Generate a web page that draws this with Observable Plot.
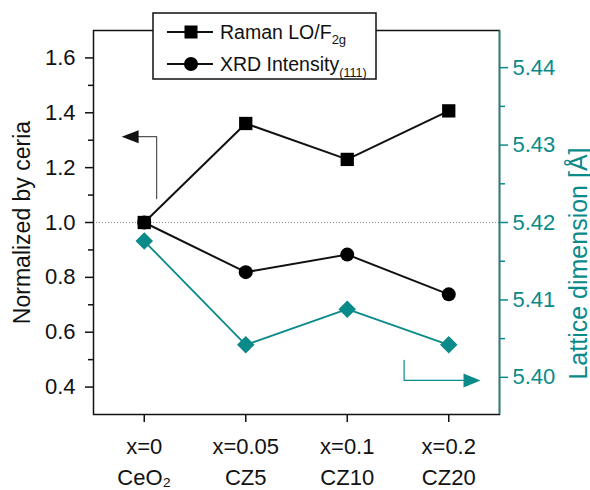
<!DOCTYPE html>
<html>
<head>
<meta charset="utf-8">
<script src="https://cdn.jsdelivr.net/npm/d3@7"></script>
<script src="https://cdn.jsdelivr.net/npm/@observablehq/plot@0.6"></script>
<style>
  body { margin: 0; background: #fff; }
  #chart svg { display: block; }
</style>
</head>
<body>
<div id="chart"></div>
<script>
// ---- data ----
const categories = ["x=0", "x=0.05", "x=0.1", "x=0.2"];
const sampleNames = ["CeO₂", "CZ5", "CZ10", "CZ20"];
const ramanLO_F2g = [1.0, 1.361, 1.230, 1.407];
const xrdIntensity111 = [1.0, 0.819, 0.883, 0.738];
const latticeDimension = [5.4176, 5.4042, 5.4088, 5.4042];
const leftTicks = [0.4, 0.6, 0.8, 1.0, 1.2, 1.4, 1.6];
const leftMinorTicks = [0.5, 0.7, 0.9, 1.1, 1.3, 1.5];
const rightTicks = [5.40, 5.41, 5.42, 5.43, 5.44];
const rightMinorTicks = [5.405, 5.415, 5.425, 5.435];
const seriesNames = ["Raman LO/F", "XRD Intensity"];
// annotation arrows (x in category index units, y in own-axis units)
const leftArrowPath = [[0.122, 1.087], [0.122, 1.313], [-0.13, 1.313]];
const leftArrowHead = [[-0.134, 1.313]];
const rightArrowPath = [[2.56, 5.4022], [2.56, 5.3996], [3.2, 5.3996]];
const rightArrowHead = [[3.224, 5.3996]];

const teal = "#0b8a8a";
const rightCenter = 5.42, leftCenter = 1.0, ratio = 0.7 / 0.0248;
const toLeft = v => leftCenter + (v - rightCenter) * ratio;
const toRight = d => rightCenter + (d - leftCenter) / ratio;

const idx = categories.map((_, i) => i);
const raman = idx.map(i => ({x: i, y: ramanLO_F2g[i]}));
const xrd = idx.map(i => ({x: i, y: xrdIntensity111[i]}));
const lattice = idx.map(i => ({x: i, y: toLeft(latticeDimension[i])}));

const arrowRight = {draw(ctx) { ctx.moveTo(9, 0); ctx.lineTo(-8, -7); ctx.lineTo(-8, 7); ctx.closePath(); }};
const arrowLeft = {draw(ctx) { ctx.moveTo(-9, 0); ctx.lineTo(8, -6.5); ctx.lineTo(8, 6.5); ctx.closePath(); }};

const font = "'Liberation Sans', Arial, Helvetica, sans-serif";

const chart = Plot.plot({
  width: 590,
  height: 490,
  marginLeft: 93,
  marginRight: 91,
  marginTop: 30,
  marginBottom: 76,
  x: {domain: [-0.5, 3.5]},
  y: {domain: [0.3, 1.7]},
  style: {fontFamily: font, fontSize: "22px", color: "#111", background: "white", overflow: "visible"},
  marks: [
    Plot.ruleY([1], {stroke: "#888", strokeWidth: 1, strokeDasharray: "1,2"}),
    // annotation arrows
    Plot.line(leftArrowPath, {x: d => d[0], y: d => d[1], stroke: "#555", strokeWidth: 1.2}),
    Plot.dot(leftArrowHead, {x: d => d[0], y: d => d[1], symbol: arrowLeft, fill: "#111", stroke: "none"}),
    Plot.line(rightArrowPath, {x: d => d[0], y: d => toLeft(d[1]), stroke: teal, strokeWidth: 1.2}),
    Plot.dot(rightArrowHead, {x: d => d[0], y: d => toLeft(d[1]), symbol: arrowRight, fill: teal, stroke: "none"}),
    // lattice (right axis)
    Plot.line(lattice, {x: "x", y: "y", stroke: teal, strokeWidth: 1.8}),
    Plot.dot(lattice, {x: "x", y: "y", symbol: "square", rotate: 45, r: 7, fill: teal, stroke: "none"}),
    // raman
    Plot.line(raman, {x: "x", y: "y", stroke: "#111", strokeWidth: 2}),
    Plot.dot(raman, {x: "x", y: "y", symbol: "square", r: 7.5, fill: "#000", stroke: "none"}),
    // xrd
    Plot.line(xrd, {x: "x", y: "y", stroke: "#111", strokeWidth: 2}),
    Plot.dot(xrd, {x: "x", y: "y", symbol: "circle", r: 7, fill: "#000", stroke: "none"}),
    // frame
    Plot.frame({stroke: "#111", strokeWidth: 1.5}),
    Plot.ruleX([3.5], {stroke: teal, strokeWidth: 1.5}),
    // left axis
    Plot.axisY(leftTicks, {anchor: "left", tickSize: 8, tickPadding: 10, tickFormat: d => d.toFixed(1), fontSize: 22, label: null, strokeWidth: 1.5}),
    Plot.axisY(leftMinorTicks, {anchor: "left", tickSize: 5, tickFormat: () => "", label: null, strokeWidth: 1.5}),
    // right axis
    Plot.axisY(rightTicks.map(toLeft), {anchor: "right", tickSize: 8, tickPadding: 5, tickFormat: d => toRight(d).toFixed(2), fontSize: 22, color: teal, label: null, strokeWidth: 1.5}),
    Plot.axisY(rightMinorTicks.map(toLeft), {anchor: "right", tickSize: 5, tickFormat: () => "", color: teal, label: null, strokeWidth: 1.5}),
    // bottom axis
    Plot.axisX(idx, {anchor: "bottom", tickSize: 8, tickPadding: 9, tickFormat: i => categories[i] + "\n" + sampleNames[i], lineHeight: 1.42, fontSize: 22, label: null, strokeWidth: 1.5}),
    // axis titles
    Plot.text(["Normalized by ceria"], {frameAnchor: "left", dx: -71, rotate: -90, textAnchor: "middle", lineAnchor: "middle", fontSize: 23, fill: "#111"}),
    Plot.text(["Lattice dimension [Å]"], {frameAnchor: "right", dx: 79, dy: 41, rotate: -90, textAnchor: "middle", lineAnchor: "middle", fontSize: 25, fill: teal})
  ]
});

// ---- legend (drawn on top of the plot svg) ----
const svg = d3.select(chart);
const lg = svg.append("g").attr("font-family", font).attr("fill", "#111").attr("text-anchor", "start");
lg.append("rect").attr("x", 153).attr("y", 13).attr("width", 223).attr("height", 66)
  .attr("fill", "white").attr("stroke", "#111").attr("stroke-width", 1.5);
const rows = [
  {y: 32, sym: "square", sub: "2g", subSize: 13, subShift: 5},
  {y: 64, sym: "circle", sub: "(111)", subSize: 12.5, subShift: 6}
];
rows.forEach((r, i) => {
  lg.append("line").attr("x1", 167).attr("x2", 213).attr("y1", r.y).attr("y2", r.y)
    .attr("stroke", "#111").attr("stroke-width", 1.8);
  if (r.sym === "square") {
    lg.append("rect").attr("x", 191 - 6.5).attr("y", r.y - 6.5).attr("width", 13).attr("height", 13).attr("fill", "#000");
  } else {
    lg.append("circle").attr("cx", 191).attr("cy", r.y).attr("r", 7).attr("fill", "#000");
  }
  const t = lg.append("text").attr("x", 220).attr("y", r.y + 7).attr("font-size", 19.5).attr("text-anchor", "start");
  t.append("tspan").text(seriesNames[i]);
  t.append("tspan").attr("font-size", r.subSize).attr("dy", r.subShift).text(r.sub);
});

document.getElementById("chart").appendChild(chart);
</script>
</body>
</html>
